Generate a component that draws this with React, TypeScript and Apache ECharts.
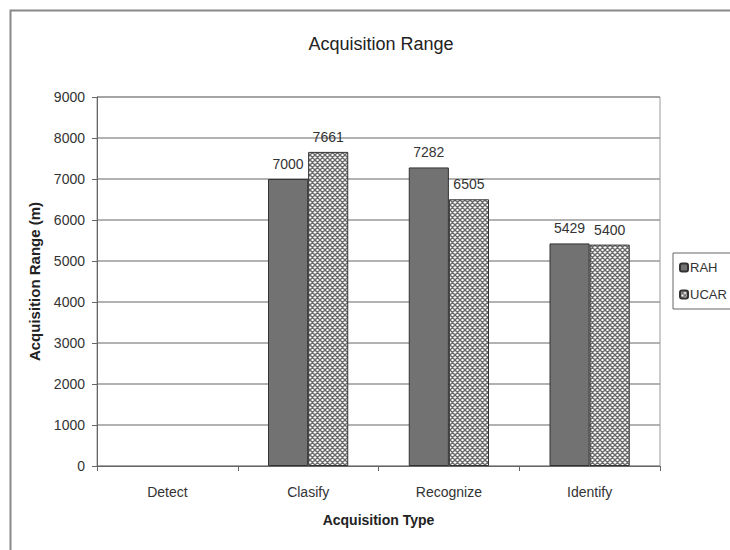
import React, { useEffect, useRef } from "react";
import * as echarts from "echarts";

const categories = ["Detect", "Clasify", "Recognize", "Identify"];
const rahValues: (number | null)[] = [null, 7000, 7282, 5429];
const ucarValues: (number | null)[] = [null, 7661, 6505, 5400];
const seriesNames = ["RAH", "UCAR"];
const yTicks = { min: 0, max: 9000, interval: 1000 };

function makeHatch(): string {
  const c = document.createElement("canvas");
  c.width = 5;
  c.height = 5;
  const ctx = c.getContext("2d")!;
  ctx.fillStyle = "#ffffff";
  ctx.fillRect(0, 0, 5, 5);
  ctx.strokeStyle = "#6a6a6a";
  ctx.lineWidth = 1.4;
  ctx.beginPath();
  for (let k = -5; k <= 10; k += 5) {
    ctx.moveTo(k, 0);
    ctx.lineTo(k + 5, 5);
    ctx.moveTo(k + 5, 0);
    ctx.lineTo(k, 5);
  }
  ctx.stroke();
  return c.toDataURL();
}

export default function App() {
  const ref = useRef<HTMLDivElement>(null);
  useEffect(() => {
    if (!ref.current) return;
    const chart = echarts.init(ref.current, undefined, { renderer: "svg" });
    const hatch = makeHatch();
    const font = "Liberation Sans, Arial, sans-serif";
    const label = {
      show: true,
      position: "top" as const,
      distance: 8,
      color: "#333",
      fontSize: 14,
      fontFamily: font,
    };
    chart.setOption({
      animation: false,
      backgroundColor: "#ffffff",
      textStyle: { fontFamily: font },
      title: {
        text: "Acquisition Range",
        left: 376,
        top: 30,
        textAlign: "center",
        textStyle: { fontSize: 18, fontWeight: "normal", color: "#222", fontFamily: font },
      },
      graphic: [
        {
          type: "rect",
          shape: { x: 10.5, y: 10.5, width: 760, height: 600 },
          style: { fill: "none", stroke: "#888", lineWidth: 2 },
          silent: true,
          z: -1,
        },
      ],
      legend: {
        data: seriesNames,
        orient: "vertical",
        left: 673,
        top: 253,
        itemWidth: 8,
        itemHeight: 8,
        itemGap: 14,
        padding: [8, 30, 8, 6],
        borderColor: "#666",
        borderWidth: 1,
        backgroundColor: "#fff",
        textStyle: { fontSize: 13, color: "#333", padding: [0, 0, 0, -3] },
      },
      grid: {
        left: 97,
        right: 70,
        top: 97,
        bottom: 84,
        show: true,
        borderColor: "#999",
        borderWidth: 1,
        backgroundColor: "#fff",
      },
      xAxis: {
        type: "category",
        data: categories,
        name: "Acquisition Type",
        nameLocation: "middle",
        nameGap: 47,
        nameTextStyle: { fontSize: 14, fontWeight: "bold", color: "#222" },
        axisLine: { lineStyle: { color: "#666", width: 1 } },
        axisTick: { show: true, length: 5, lineStyle: { color: "#666" } },
        axisLabel: { fontSize: 14, color: "#333", margin: 19 },
      },
      yAxis: {
        type: "value",
        min: yTicks.min,
        max: yTicks.max,
        interval: yTicks.interval,
        name: "Acquisition Range (m)",
        nameLocation: "middle",
        nameGap: 55,
        nameTextStyle: { fontSize: 15, fontWeight: "bold", color: "#222" },
        axisLine: { show: true, lineStyle: { color: "#666", width: 1 } },
        axisTick: { show: true, length: 5, lineStyle: { color: "#666" } },
        axisLabel: { fontSize: 14, color: "#333", margin: 12, formatter: (v: number) => String(v) },
        splitLine: { lineStyle: { color: "#999", width: 1.5 } },
      },
      series: [
        {
          name: seriesNames[0],
          type: "bar",
          data: rahValues,
          barGap: "0%",
          barCategoryGap: "43%",
          itemStyle: { color: "#727272", borderColor: "#333", borderWidth: 1 },
          label,
        },
        {
          name: seriesNames[1],
          type: "bar",
          data: ucarValues,
          barGap: "0%",
          barCategoryGap: "43%",
          itemStyle: {
            color: { image: hatch, repeat: "repeat" },
            borderColor: "#333",
            borderWidth: 1,
          },
          label,
        },
      ],
    });
    return () => chart.dispose();
  }, []);
  return (
    <div
      ref={ref}
      style={{ position: "fixed", left: 0, top: 0, width: 730, height: 550 }}
    />
  );
}
